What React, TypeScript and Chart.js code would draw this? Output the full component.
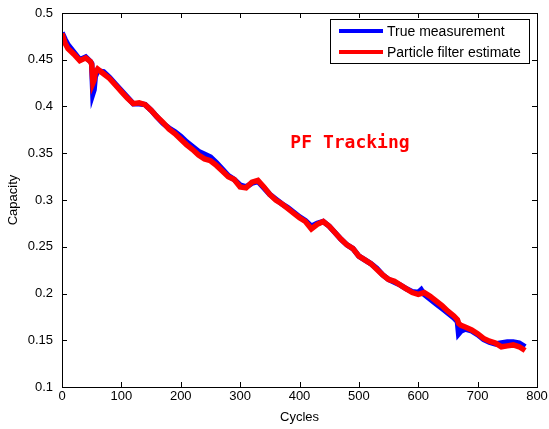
import React, { useEffect, useRef } from "react";
import { Chart, registerables } from "chart.js";

Chart.register(...registerables);

const cyclesTrue = [0, 5, 10, 20, 30, 40, 48, 50, 52, 54, 56, 60, 70, 80, 90, 100, 110, 120, 130, 140, 150, 160, 170, 180, 190, 200, 210, 220, 230, 240, 250, 260, 270, 280, 290, 300, 310, 320, 330, 340, 350, 360, 370, 380, 390, 400, 410, 420, 430, 440, 450, 460, 470, 480, 490, 500, 510, 520, 530, 540, 550, 560, 570, 580, 590, 600, 605, 610, 620, 630, 640, 650, 660, 666, 668, 672, 680, 690, 700, 710, 720, 730, 740, 750, 760, 770, 780];
const trueCapacity = [0.479, 0.472, 0.466, 0.458, 0.450, 0.453, 0.448, 0.446, 0.414, 0.418, 0.432, 0.438, 0.437, 0.431, 0.424, 0.417, 0.410, 0.403, 0.403, 0.402, 0.396, 0.389, 0.382, 0.377, 0.373, 0.368, 0.362, 0.357, 0.352, 0.349, 0.346, 0.340, 0.333, 0.326, 0.322, 0.316, 0.314, 0.318, 0.320, 0.313, 0.306, 0.301, 0.296, 0.292, 0.287, 0.282, 0.278, 0.272, 0.275, 0.277, 0.272, 0.265, 0.258, 0.252, 0.248, 0.240, 0.236, 0.232, 0.227, 0.220, 0.215, 0.212, 0.209, 0.205, 0.202, 0.201, 0.204, 0.199, 0.194, 0.189, 0.184, 0.179, 0.174, 0.170, 0.157, 0.160, 0.162, 0.160, 0.156, 0.151, 0.148, 0.146, 0.147, 0.148, 0.148, 0.147, 0.143];

const cyclesPF = [0, 5, 10, 20, 30, 40, 48, 50, 52, 54, 56, 60, 70, 80, 90, 100, 110, 120, 130, 140, 150, 160, 170, 180, 190, 200, 210, 220, 230, 240, 250, 260, 270, 280, 290, 300, 310, 320, 330, 340, 350, 360, 370, 380, 390, 400, 410, 420, 430, 440, 450, 460, 470, 480, 490, 500, 510, 520, 530, 540, 550, 560, 570, 580, 590, 600, 610, 620, 630, 640, 650, 660, 666, 668, 672, 680, 690, 700, 710, 720, 730, 740, 750, 760, 770, 780];
const pfEstimate = [0.478, 0.468, 0.462, 0.456, 0.449, 0.452, 0.448, 0.445, 0.425, 0.428, 0.436, 0.440, 0.435, 0.430, 0.423, 0.416, 0.409, 0.403, 0.404, 0.402, 0.396, 0.389, 0.383, 0.376, 0.371, 0.365, 0.359, 0.354, 0.348, 0.344, 0.342, 0.337, 0.331, 0.325, 0.322, 0.314, 0.313, 0.319, 0.321, 0.314, 0.306, 0.300, 0.296, 0.291, 0.286, 0.281, 0.277, 0.269, 0.274, 0.277, 0.272, 0.265, 0.258, 0.252, 0.248, 0.240, 0.236, 0.232, 0.226, 0.220, 0.215, 0.213, 0.209, 0.205, 0.201, 0.199, 0.201, 0.197, 0.192, 0.187, 0.181, 0.176, 0.172, 0.168, 0.166, 0.164, 0.161, 0.157, 0.152, 0.149, 0.147, 0.143, 0.144, 0.145, 0.143, 0.139];

const seriesLabels = ["True measurement", "Particle filter estimate"];
const seriesColors = ["#0000ff", "#ff0000"];
const xTicks = [0, 100, 200, 300, 400, 500, 600, 700, 800];
const yTicks = [0.1, 0.15, 0.2, 0.25, 0.3, 0.35, 0.4, 0.45, 0.5];
const annotationText = "PF Tracking";
const annotationPos = { x: 485, y: 0.361 };

const FONT = "'Liberation Sans', Arial, sans-serif";

const framePlugin = {
  id: "frame",
  afterDraw(chart: any) {
    const { ctx, chartArea: a, scales } = chart;
    const xs = scales.x;
    const ys = scales.y;
    ctx.save();
    ctx.strokeStyle = "#000";
    ctx.lineWidth = 1;
    ctx.strokeRect(a.left + 0.5, a.top + 0.5, a.right - a.left, a.bottom - a.top);
    const tl = 5;
    ctx.beginPath();
    for (const t of xTicks) {
      const px = Math.round(xs.getPixelForValue(t)) + 0.5;
      ctx.moveTo(px, a.bottom);
      ctx.lineTo(px, a.bottom - tl);
      ctx.moveTo(px, a.top);
      ctx.lineTo(px, a.top + tl);
    }
    for (const t of yTicks) {
      const py = Math.round(ys.getPixelForValue(t)) + 0.5;
      ctx.moveTo(a.left, py);
      ctx.lineTo(a.left + tl, py);
      ctx.moveTo(a.right, py);
      ctx.lineTo(a.right - tl, py);
    }
    ctx.stroke();

    // annotation
    ctx.fillStyle = "#ff0000";
    ctx.font = "bold 18px 'DejaVu Sans Mono', monospace";
    ctx.textAlign = "center";
    ctx.textBaseline = "middle";
    ctx.fillText(annotationText, xs.getPixelForValue(annotationPos.x), ys.getPixelForValue(annotationPos.y));

    // legend box
    const bx = 330.5, by = 19.5, bw = 199, bh = 44;
    ctx.fillStyle = "#fff";
    ctx.fillRect(bx, by, bw, bh);
    ctx.strokeStyle = "#000";
    ctx.strokeRect(bx, by, bw, bh);
    ctx.font = `14px ${FONT}`;
    ctx.textAlign = "left";
    ctx.textBaseline = "middle";
    chart.data.datasets.forEach((ds: any, i: number) => {
      const yy = 31 + i * 21;
      ctx.strokeStyle = ds.borderColor;
      ctx.lineWidth = 4;
      ctx.beginPath();
      ctx.moveTo(339, yy);
      ctx.lineTo(383, yy);
      ctx.stroke();
      ctx.fillStyle = "#000";
      ctx.fillText(ds.label, 387, yy + 1);
    });
    ctx.restore();
  },
};

export default function App() {
  const ref = useRef<HTMLCanvasElement | null>(null);
  useEffect(() => {
    document.body.style.margin = "0";
    const canvas = ref.current!;
    const chart = new Chart(canvas, {
      type: "line",
      data: {
        datasets: [
          {
            label: seriesLabels[0],
            data: cyclesTrue.map((c, i) => ({ x: c, y: trueCapacity[i] })),
            borderColor: seriesColors[0],
            backgroundColor: seriesColors[0],
            borderWidth: 5.5,
            pointRadius: 0,
            tension: 0,
            order: 2,
          },
          {
            label: seriesLabels[1],
            data: cyclesPF.map((c, i) => ({ x: c, y: pfEstimate[i] })),
            borderColor: seriesColors[1],
            backgroundColor: seriesColors[1],
            borderWidth: 5.5,
            pointRadius: 0,
            tension: 0,
            order: 1,
          },
        ],
      },
      options: {
        responsive: false,
        animation: false,
        layout: { padding: { left: 0, top: 13, right: 12, bottom: 0 } },
        plugins: { legend: { display: false }, tooltip: { enabled: false } },
        scales: {
          x: {
            type: "linear",
            min: 0,
            max: 800,
            afterFit: (s: any) => { s.height = 42; s.paddingLeft = 0; s.paddingRight = 0; },
            afterBuildTicks: (s: any) => { s.ticks = xTicks.map((v) => ({ value: v })); },
            grid: { display: false, drawTicks: false },
            border: { display: false },
            ticks: { color: "#000", font: { family: FONT, size: 13 }, padding: 2, maxRotation: 0 },
            title: { display: true, text: "Cycles", color: "#000", font: { family: FONT, size: 13 }, padding: { top: 0, bottom: 4 } },
          },
          y: {
            type: "linear",
            min: 0.1,
            max: 0.5,
            afterFit: (s: any) => { s.width = 62; s.paddingTop = 0; s.paddingBottom = 0; },
            afterBuildTicks: (s: any) => { s.ticks = yTicks.map((v) => ({ value: v })); },
            grid: { display: false, drawTicks: false },
            border: { display: false },
            ticks: { color: "#000", font: { family: FONT, size: 13 }, padding: 9, callback: (v: any) => String(+Number(v).toFixed(2)) },
            title: { display: true, text: "Capacity", color: "#000", font: { family: FONT, size: 13 }, padding: { top: 6, bottom: 0 } },
          },
        },
      },
      plugins: [framePlugin],
    });
    return () => chart.destroy();
  }, []);
  return <canvas ref={ref} width={549} height={429} style={{ display: "block" }} />;
}
